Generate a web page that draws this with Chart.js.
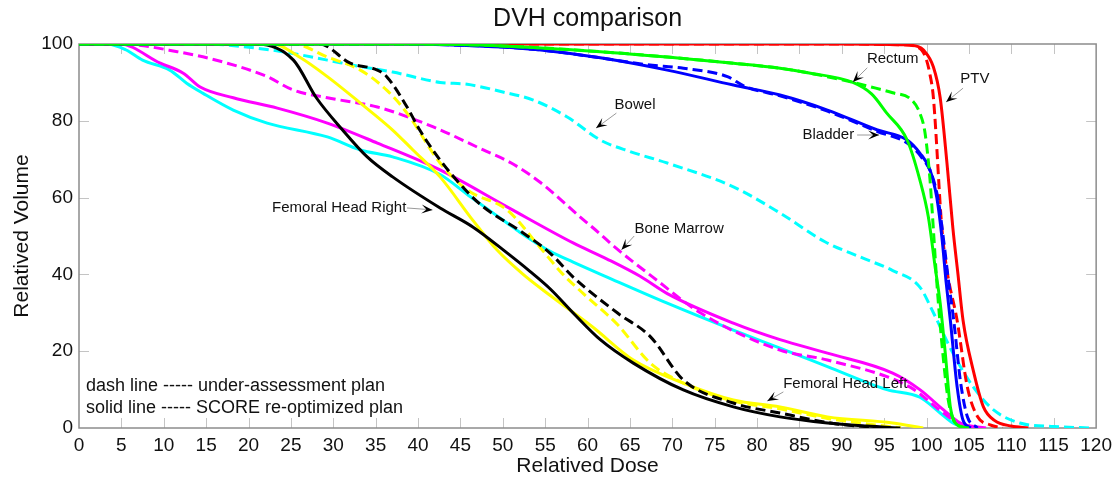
<!DOCTYPE html>
<html>
<head>
<meta charset="utf-8">
<script src="https://cdn.jsdelivr.net/npm/chart.js@4.4.0/dist/chart.umd.min.js"></script>
<style>
  body { margin: 0; background: #fff; }
  #wrap { width: 1118px; height: 478px; }
</style>
</head>
<body>
<div id="wrap"><canvas id="dvh" width="1118" height="478"></canvas></div>
<script>
// dose (x) and relative volume (y)
const ptvSolidDose = [0, 90, 97, 99, 99.6, 100.8, 101.6, 102.4, 103.1, 103.7, 104.3, 105.5, 106.7, 108, 110, 112];
const ptvSolidVol = [100, 100, 99.8, 99.3, 98.5, 94, 86, 69, 52, 40, 28, 15, 5.5, 2, 0.5, 0];
const ptvDashDose = [0, 90, 97, 98.8, 99.8, 100.4, 100.8, 101.8, 102.4, 103.6, 104.8, 106, 107.5, 109];
const ptvDashVol = [100, 100, 99.8, 99.3, 97, 92, 86, 52, 41, 28, 10.7, 3, 0.8, 0];

const rectumSolidDose = [0, 40, 50, 61.5, 69.4, 77.2, 82.7, 86, 91.3, 93.5, 95.3, 97.7, 99.2, 100.2, 101, 101.6, 102.2, 102.8, 103.5, 105];
const rectumSolidVol = [100, 100, 99.5, 98, 96.6, 95, 93.7, 92.5, 90, 87, 82, 75, 64.6, 55, 42, 32.5, 19.5, 5.5, 1, 0];
const rectumDashDose = [0, 40, 50, 61.5, 69.4, 77.2, 82.7, 86, 91.3, 94, 96, 98.2, 99.2, 99.8, 100.4, 100.8, 101.2, 101.8, 102.5, 103.2, 104.5];
const rectumDashVol = [100, 100, 99.5, 98, 96.6, 95, 93.7, 92.5, 90, 88.5, 87.3, 85.5, 82, 77, 64.6, 51.6, 38, 22, 8, 2, 0];

const bladderSolidDose = [0, 38, 45, 50, 55, 61.5, 69.4, 77.2, 82.7, 88.3, 94.2, 97.7, 99.2, 100.4, 101.2, 101.8, 102.3, 102.8, 103.6, 104.3, 105.2];
const bladderSolidVol = [100, 100, 99.7, 99.2, 98.3, 96.4, 93.2, 89.3, 86.7, 82.8, 77.6, 75, 71.6, 67.2, 60, 49.7, 38, 28, 10.7, 2, 0];
const bladderDashDose = [0, 38, 45, 50, 55, 61.5, 67, 71.3, 76.5, 78.5, 82.7, 88.3, 94.2, 97.7, 99.4, 100.6, 101.4, 102, 102.6, 103.2, 104, 104.8, 106];
const bladderDashVol = [100, 100, 99.7, 99.2, 98.3, 96.4, 94.6, 93.7, 91.5, 89, 86.5, 82.5, 77.2, 74.2, 70.5, 66, 59, 49, 38, 28, 12, 3, 0];

const bowelSolidDose = [0, 3.3, 5.5, 7.5, 10.7, 12.7, 14.6, 18.2, 22.2, 29.3, 33.2, 37, 42.6, 46, 50.5, 52, 55.6, 58.3, 62.3, 69.4, 77.2, 82.7, 88.3, 95.3, 99.2, 101.6, 103.1, 104.5];
const bowelSolidVol = [100, 100, 98.5, 95.8, 93.2, 89.8, 87.2, 82.8, 79.4, 75.8, 72.4, 70.6, 66, 60.5, 53.4, 51, 46, 43.2, 39.3, 32.5, 25.5, 20.8, 16, 10, 8, 3.9, 1.3, 0];
const bowelDashDose = [0, 15, 18, 24, 29.3, 33, 37, 42.6, 45.8, 50, 53.6, 57.6, 61.5, 65, 69.4, 77.2, 82.7, 88, 92.2, 96, 99.2, 100.8, 103.1, 105.5, 107.9, 111, 115, 119.3];
const bowelDashVol = [100, 100, 99.6, 98, 95.8, 94.2, 92.7, 90, 89.5, 87.5, 85.4, 81, 75, 72, 69, 62.8, 56, 48.5, 44.5, 41, 36.7, 30, 19.5, 10.7, 4.7, 1.3, 0.4, 0];

const marrowSolidDose = [0, 4.8, 9.6, 12.3, 14.3, 18.2, 23.4, 29.3, 35.2, 42.6, 50.5, 58.3, 62.3, 66.2, 69.4, 77.2, 82.7, 88.3, 96, 99.2, 102, 104, 107];
const marrowSolidVol = [100, 100, 95, 92.4, 88.8, 86, 83.3, 79.4, 74.2, 67.2, 57.6, 48.2, 44, 39.5, 35, 27.3, 23, 19.5, 14.3, 10, 4.7, 1.3, 0];
const marrowDashDose = [0, 4.8, 11.6, 17.5, 22.2, 25.3, 29.3, 35.2, 41.8, 47.7, 51, 54.4, 59.1, 61.5, 63, 67.7, 73.3, 82.7, 88.3, 98, 102, 104, 106];
const marrowDashVol = [100, 100, 98, 95, 91.5, 88, 86, 83.6, 78.4, 72.4, 69, 64, 55, 50.5, 47.5, 39.3, 30, 20.3, 17.7, 10.7, 3.9, 1, 0];

const femRightSolidDose = [0, 21, 25.3, 28, 31.1, 34, 37, 42.6, 46.5, 50.5, 53.2, 55.6, 58.5, 61.5, 65.4, 71.3, 77.2, 82.7, 88.3, 93, 96.9];
const femRightSolidVol = [100, 100, 95.8, 86, 77.6, 70.6, 65.4, 57.3, 52.3, 45.6, 40.8, 36.2, 29.5, 23, 16.9, 9.9, 5.5, 2.9, 1.3, 0.5, 0];
const femRightDashDose = [0, 28.4, 32, 35.2, 36.3, 38.7, 40.2, 42.6, 45.8, 47.7, 52.4, 55.6, 58.3, 63.5, 67.4, 71.3, 77.2, 82.7, 89, 95];
const femRightDashVol = [100, 100, 95, 93.2, 91.5, 83.6, 77.6, 69.8, 61.5, 57.6, 50.8, 45.5, 39.3, 30, 23.8, 12.5, 6.5, 3.9, 1.2, 0];

const femLeftSolidDose = [0, 22.9, 26, 29.3, 33.2, 37, 39.4, 42.6, 46.5, 49.3, 52.4, 55.6, 60.6, 65.4, 71.3, 77.2, 82.7, 88.3, 96, 99.6];
const femLeftSolidVol = [100, 100, 96.6, 91.5, 84.6, 77.6, 72.4, 65.4, 54, 46.4, 40, 34.5, 26.3, 17.7, 11.7, 7.3, 5.5, 2.9, 1.3, 0];
const femLeftDashDose = [0, 25.3, 29.3, 33.2, 36.3, 38.7, 42.6, 45.8, 50.5, 54.4, 57.1, 59.5, 63.5, 67.4, 71.3, 77.2, 82.7, 88.3, 94, 97];
const femLeftDashVol = [100, 100, 96.6, 93.2, 88, 82, 69, 62, 56.8, 47, 40, 35, 27, 16.9, 11.7, 7, 5, 2.5, 0.8, 0];

const xTicks = [0, 120, 5];
const yTicks = [0, 100, 20];

// label text, text anchor, arrow tail, arrow tip (data units)
const notes = [
  { text: "Rectum", at: [96.0, 96.1], from: [93.0, 93.8], to: [91.3, 90.1] },
  { text: "PTV", at: [105.7, 90.9], from: [104.3, 88.5], to: [102.3, 84.9] },
  { text: "Bladder", at: [88.4, 76.3], from: [91.8, 76.3], to: [94.4, 76.3] },
  { text: "Bowel", at: [65.6, 84.1], from: [63.4, 82.0], to: [61.0, 78.1] },
  { text: "Bone Marrow", at: [70.8, 51.8], from: [65.5, 50.0], to: [64.0, 46.4] },
  { text: "Femoral Head Right", at: [30.7, 57.3], from: [38.7, 57.3], to: [41.7, 56.8] },
  { text: "Femoral Head Left", at: [90.4, 11.5], from: [83.1, 9.4], to: [81.2, 7.0] }
];

const FONT = "'Liberation Sans', Arial, sans-serif";

function pts(xs, ys) {
  return xs.map((x, i) => ({ x: x, y: ys[i] }));
}

function line(xs, ys, color, dashed) {
  return {
    data: pts(xs, ys),
    borderColor: color,
    backgroundColor: color,
    borderWidth: 3,
    borderDash: dashed ? [10, 5] : [],
    pointRadius: 0,
    cubicInterpolationMode: "monotone",
    fill: false
  };
}

// first one is drawn on top
const datasets = [
  line(rectumSolidDose, rectumSolidVol, "#00ff00", false),
  line(rectumDashDose, rectumDashVol, "#00ff00", true),
  line(bladderSolidDose, bladderSolidVol, "#0000ff", false),
  line(bladderDashDose, bladderDashVol, "#0000ff", true),
  line(ptvSolidDose, ptvSolidVol, "#ff0000", false),
  line(ptvDashDose, ptvDashVol, "#ff0000", true),
  line(femRightSolidDose, femRightSolidVol, "#000000", false),
  line(femRightDashDose, femRightDashVol, "#000000", true),
  line(femLeftSolidDose, femLeftSolidVol, "#ffff00", false),
  line(femLeftDashDose, femLeftDashVol, "#ffff00", true),
  line(marrowSolidDose, marrowSolidVol, "#ff00ff", false),
  line(marrowDashDose, marrowDashVol, "#ff00ff", true),
  line(bowelSolidDose, bowelSolidVol, "#00ffff", false),
  line(bowelDashDose, bowelDashVol, "#00ffff", true)
];

function arrow(ctx, x0, y0, x1, y1) {
  ctx.strokeStyle = "#9a9a9a";
  ctx.lineWidth = 1;
  ctx.beginPath();
  ctx.moveTo(x0, y0);
  ctx.lineTo(x1, y1);
  ctx.stroke();
  const len = Math.hypot(x1 - x0, y1 - y0) || 1;
  const dx = (x1 - x0) / len, dy = (y1 - y0) / len;
  const nx = -dy, ny = dx;
  const L = 11, W = 9;
  ctx.fillStyle = "#000";
  ctx.beginPath();
  ctx.moveTo(x1, y1);
  ctx.lineTo(x1 - dx * L + nx * W / 2, y1 - dy * L + ny * W / 2);
  ctx.lineTo(x1 - dx * L * 0.55, y1 - dy * L * 0.55);
  ctx.lineTo(x1 - dx * L - nx * W / 2, y1 - dy * L - ny * W / 2);
  ctx.closePath();
  ctx.fill();
}

const decor = {
  id: "decor",
  beforeDatasetsDraw(chart) {
    const { ctx, chartArea: a, scales } = chart;
    ctx.save();
    // inward tick marks
    ctx.strokeStyle = "#c4c4c4";
    ctx.lineWidth = 1;
    ctx.beginPath();
    for (let v = xTicks[0] + xTicks[2]; v < xTicks[1]; v += xTicks[2]) {
      const px = Math.round(scales.x.getPixelForValue(v)) + 0.5;
      ctx.moveTo(px, a.bottom); ctx.lineTo(px, a.bottom - 10);
      ctx.moveTo(px, a.top); ctx.lineTo(px, a.top + 10);
    }
    for (let v = yTicks[0] + yTicks[2]; v < yTicks[1]; v += yTicks[2]) {
      const py = Math.round(scales.y.getPixelForValue(v)) + 0.5;
      ctx.moveTo(a.left, py); ctx.lineTo(a.left + 10, py);
      ctx.moveTo(a.right, py); ctx.lineTo(a.right - 10, py);
    }
    ctx.stroke();
    // box
    ctx.strokeStyle = "#8c8c8c";
    ctx.lineWidth = 1.5;
    ctx.strokeRect(a.left, a.top, a.right - a.left, a.bottom - a.top);
    ctx.restore();
  },
  afterDatasetsDraw(chart) {
    const { ctx, chartArea: a, scales } = chart;
    ctx.save();
    ctx.fillStyle = "#111";
    ctx.textAlign = "center";
    ctx.textBaseline = "middle";
    ctx.font = "25px " + FONT;
    ctx.fillText("DVH comparison", (a.left + a.right) / 2, 19);
    ctx.font = "21px " + FONT;
    ctx.fillText("Relatived Dose", (a.left + a.right) / 2, 466);
    ctx.save();
    ctx.translate(22, (a.top + a.bottom) / 2);
    ctx.rotate(-Math.PI / 2);
    ctx.fillText("Relatived Volume", 0, 0);
    ctx.restore();

    ctx.font = "15px " + FONT;
    notes.forEach(n => {
      const tx = scales.x.getPixelForValue(n.at[0]);
      const ty = scales.y.getPixelForValue(n.at[1]);
      ctx.fillStyle = "#111";
      ctx.fillText(n.text, tx, ty);
      arrow(ctx,
        scales.x.getPixelForValue(n.from[0]), scales.y.getPixelForValue(n.from[1]),
        scales.x.getPixelForValue(n.to[0]), scales.y.getPixelForValue(n.to[1]));
    });

    ctx.font = "18px " + FONT;
    ctx.textAlign = "left";
    ctx.fillStyle = "#111";
    ctx.fillText("dash line ----- under-assessment plan", a.left + 7, 386);
    ctx.fillText("solid line ----- SCORE re-optimized plan", a.left + 7, 408);
    ctx.restore();
  }
};

new Chart(document.getElementById("dvh"), {
  type: "line",
  data: { datasets: datasets },
  options: {
    responsive: false,
    animation: false,
    devicePixelRatio: 1,
    layout: { padding: { top: 44, right: 20, left: 0, bottom: 0 } },
    plugins: { legend: { display: false }, tooltip: { enabled: false } },
    scales: {
      x: {
        type: "linear",
        min: xTicks[0], max: xTicks[1],
        grid: { display: false, drawTicks: false },
        border: { display: false },
        ticks: { stepSize: xTicks[2], color: "#111", padding: 6, maxRotation: 0, autoSkip: false, font: { size: 19, family: FONT } },
        afterFit: s => { s.height = 50; }
      },
      y: {
        min: yTicks[0], max: yTicks[1],
        grid: { display: false, drawTicks: false },
        border: { display: false },
        ticks: { stepSize: yTicks[2], color: "#111", padding: 6, font: { size: 19, family: FONT } },
        afterFit: s => { s.width = 79; }
      }
    }
  },
  plugins: [decor]
});
</script>
</body>
</html>
